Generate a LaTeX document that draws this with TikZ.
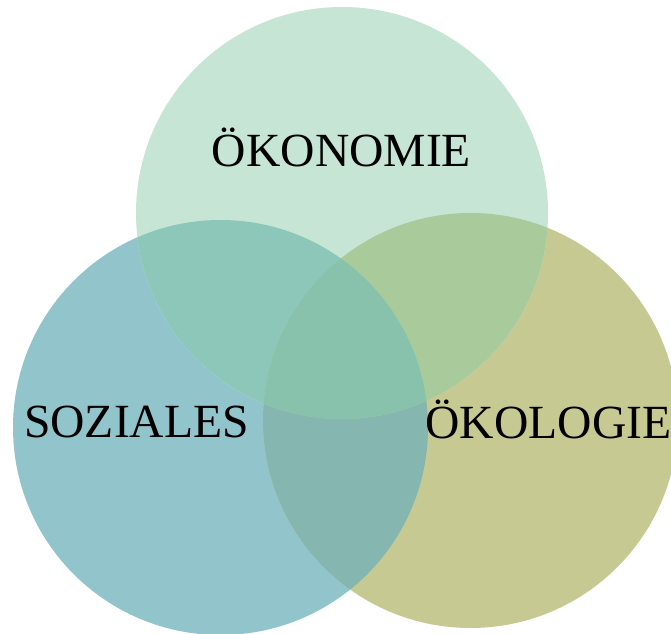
\documentclass[tikz,border=0pt]{standalone}
\usepackage{fontspec}
\setmainfont{Liberation Serif}
\definecolor{cTop}{HTML}{C6E5D4}
\definecolor{cLeft}{HTML}{92C4CB}
\definecolor{cRight}{HTML}{C7C992}
\definecolor{cTL}{HTML}{8CC7B9}
\definecolor{cTR}{HTML}{A9CA9A}
\definecolor{cLR}{HTML}{85B6B0}
\definecolor{cAll}{HTML}{88C2AC}
\tikzset{lbl/.style={anchor=base,inner sep=0pt,font=\fontsize{35.7}{42}\selectfont}}
\begin{document}
\begin{tikzpicture}[x=0.75pt,y=-0.75pt]
\useasboundingbox (0,0) rectangle (671,634);
\fill[white] (0,0) rectangle (671,634);
\def\Ctop{(342,213) circle (206)}
\def\Cleft{(220.5,427.5) circle (207.5)}
\def\Cright{(470.5,420.5) circle (207.5)}
\fill[cLeft] \Cleft;
\fill[cRight] \Cright;
\fill[cTop] \Ctop;
\begin{scope}\clip \Cleft; \fill[cLR] \Cright; \end{scope}
\begin{scope}\clip \Ctop; \fill[cTL] \Cleft; \end{scope}
\begin{scope}\clip \Ctop; \fill[cTR] \Cright; \end{scope}
\begin{scope}\clip \Ctop; \clip \Cleft; \fill[cAll] \Cright; \end{scope}
\node[lbl] (oek) at (341.5,167) {ÖKONOMIE};
\node[lbl] (soz) at (136.5,437) {SOZIALES};
\node[lbl] (oko) at (548.5,438) {ÖKOLOGIE};
\end{tikzpicture}
\end{document}
